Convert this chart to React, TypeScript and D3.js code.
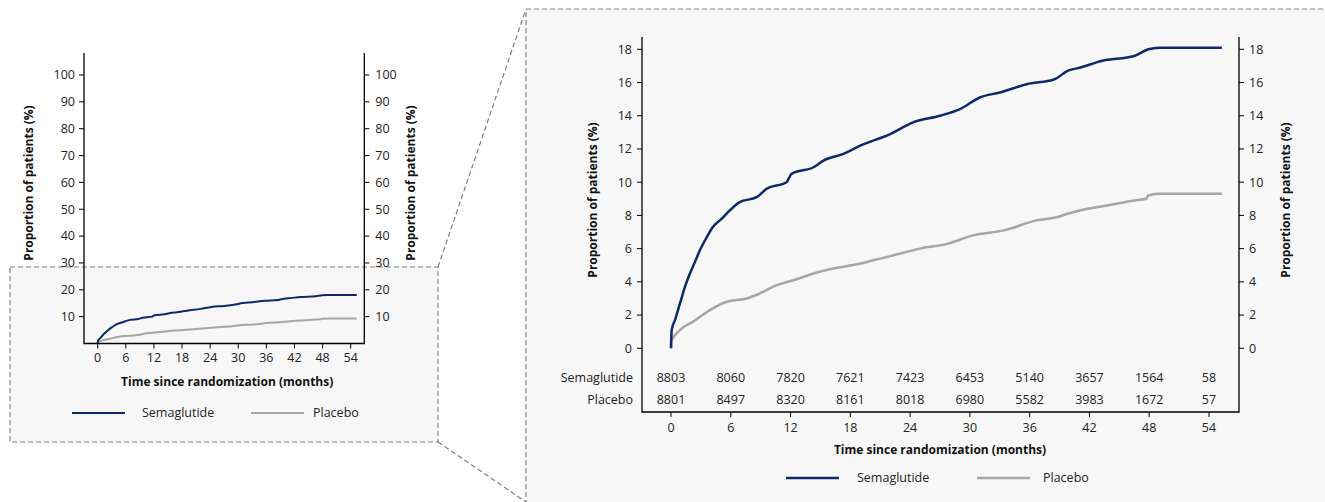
import React from "react";
import * as d3 from "d3";

const months = [0, 6, 12, 18, 24, 30, 36, 42, 48, 54];
const smallYTicks = [10, 20, 30, 40, 50, 60, 70, 80, 90, 100];
const bigYTicks = [0, 2, 4, 6, 8, 10, 12, 14, 16, 18];
const semaAtRisk = [8803, 8060, 7820, 7621, 7423, 6453, 5140, 3657, 1564, 58];
const placeboAtRisk = [8801, 8497, 8320, 8161, 8018, 6980, 5582, 3983, 1672, 57];

const semaTime = [0, 0.07, 0.4, 0.9, 1.4, 1.9, 2.4, 2.9, 3.6, 4.2, 5.1, 5.9, 6.9, 8.6, 9.6, 11.6, 12.1, 14.3, 15.3, 17.3, 19.0, 22.0, 24.3, 27.0, 29.0, 31.0, 33.0, 35.7, 38.5, 39.8, 41.1, 43.2, 46.5, 47.9, 49.0, 55.3];
const semaPct = [0, 1.1, 1.7, 2.7, 3.7, 4.5, 5.2, 5.9, 6.7, 7.3, 7.8, 8.3, 8.8, 9.1, 9.6, 10.0, 10.5, 10.9, 11.3, 11.7, 12.2, 12.9, 13.6, 14.0, 14.4, 15.1, 15.4, 15.9, 16.2, 16.7, 16.9, 17.3, 17.6, 18.0, 18.1, 18.1];
const placeboTime = [0, 0.02, 0.9, 2.2, 3.9, 5.6, 7.6, 8.9, 10.6, 12.3, 14.3, 16.3, 19.0, 20.3, 21.7, 25.0, 27.8, 30.3, 33.4, 36.7, 38.8, 39.8, 41.8, 43.8, 46.5, 47.7, 47.9, 48.9, 55.3];
const placeboPct = [0, 0.4, 1.1, 1.6, 2.3, 2.8, 3.0, 3.3, 3.8, 4.1, 4.5, 4.8, 5.1, 5.3, 5.5, 6.0, 6.3, 6.8, 7.1, 7.7, 7.9, 8.1, 8.4, 8.6, 8.9, 9.0, 9.2, 9.3, 9.3];

const SEMA = "#0c2a6b";
const PLAC = "#a6a6a6";
const BG = "#f7f7f7";
const DASH = "#808080";
const FONT = "'Open Sans', sans-serif";

const semaPts = semaTime.map((t, i) => [t, semaPct[i]] as [number, number]);
const placPts = placeboTime.map((t, i) => [t, placeboPct[i]] as [number, number]);

export default function App() {
  // small chart
  const xL = d3.scaleLinear().domain([0, 54]).range([97.7, 350.7]);
  const yL = d3.scaleLinear().domain([0, 100]).range([343.5, 75]);
  const lineL = d3.line<[number, number]>().x(d => xL(d[0])).y(d => yL(d[1])).curve(d3.curveMonotoneX);
  const L = { left: 84, right: 364.3, top: 53, bottom: 343.5 };

  // big chart
  const xR = d3.scaleLinear().domain([0, 54]).range([671, 1209]);
  const yR = d3.scaleLinear().domain([0, 18]).range([348.3, 49.3]);
  const lineR = d3.line<[number, number]>().x(d => xR(d[0])).y(d => yR(d[1])).curve(d3.curveMonotoneX);
  const R = { left: 642, right: 1239, top: 37, bottom: 412 };

  const fs = 12.5;
  return (
    <svg width={1325} height={502} style={{ position: "absolute", left: 0, top: 0, fontFamily: FONT }}>
      <rect x={0} y={0} width={1325} height={502} fill="#ffffff" />
      {/* zoom boxes */}
      <rect x={10} y={267} width={428} height={175} fill={BG} stroke={DASH} strokeWidth={1.2} strokeDasharray="5,3" />
      <rect x={526} y={9} width={820} height={520} fill={BG} stroke={DASH} strokeWidth={1.2} strokeDasharray="5,3" />
      <line x1={438} y1={267} x2={526} y2={9} stroke={DASH} strokeWidth={1.2} strokeDasharray="5,3" />
      <line x1={438} y1={442} x2={526} y2={502} stroke={DASH} strokeWidth={1.2} strokeDasharray="5,3" />

      {/* ===== small chart ===== */}
      <g>
        <path d={lineL(placPts) || ""} fill="none" stroke={PLAC} strokeWidth={2} />
        <path d={lineL(semaPts) || ""} fill="none" stroke={SEMA} strokeWidth={2} />
        <path d={`M${L.left},${L.top}V${L.bottom}H${L.right}V${L.top}`} fill="none" stroke="#000" strokeWidth={1.3} />
        {smallYTicks.map(v => (
          <g key={"sl" + v}>
            <line x1={L.left - 5} x2={L.left} y1={yL(v)} y2={yL(v)} stroke="#000" strokeWidth={1} />
            <text x={L.left - 9} y={yL(v)} dy="0.35em" textAnchor="end" fontSize={fs} fill="#222">{v}</text>
            <line x1={L.right} x2={L.right + 5} y1={yL(v)} y2={yL(v)} stroke="#000" strokeWidth={1} />
            <text x={L.right + 11} y={yL(v)} dy="0.35em" textAnchor="start" fontSize={fs} fill="#222">{v}</text>
          </g>
        ))}
        {months.map(m => (
          <g key={"sx" + m}>
            <line x1={xL(m)} x2={xL(m)} y1={L.bottom} y2={L.bottom + 5} stroke="#000" strokeWidth={1} />
            <text x={xL(m)} y={358} dy="0.35em" textAnchor="middle" fontSize={fs} fill="#222">{m}</text>
          </g>
        ))}
        <text x={(L.left + L.right) / 2 + 3} y={382} dy="0.35em" textAnchor="middle" fontSize={12} fontWeight="bold" fill="#111">Time since randomization (months)</text>
        <text transform="translate(29,183) rotate(-90)" dy="0.35em" textAnchor="middle" fontSize={12} fontWeight="bold" fill="#111">Proportion of patients (%)</text>
        <text transform="translate(411,183) rotate(-90)" dy="0.35em" textAnchor="middle" fontSize={12} fontWeight="bold" fill="#111">Proportion of patients (%)</text>
        <line x1={72} x2={125} y1={413} y2={413} stroke={SEMA} strokeWidth={2} />
        <text x={142} y={413} dy="0.35em" fontSize={fs} fill="#222">Semaglutide</text>
        <line x1={251} x2={304} y1={413} y2={413} stroke={PLAC} strokeWidth={2} />
        <text x={313} y={413} dy="0.35em" fontSize={fs} fill="#222">Placebo</text>
      </g>

      {/* ===== big chart ===== */}
      <g>
        <path d={lineR(placPts) || ""} fill="none" stroke={PLAC} strokeWidth={2.5} />
        <path d={lineR(semaPts) || ""} fill="none" stroke={SEMA} strokeWidth={2.5} />
        <path d={`M${R.left},${R.top}V${R.bottom}H${R.right}V${R.top}`} fill="none" stroke="#000" strokeWidth={1.3} />
        {bigYTicks.map(v => (
          <g key={"bl" + v}>
            <line x1={R.left - 5} x2={R.left} y1={yR(v)} y2={yR(v)} stroke="#000" strokeWidth={1} />
            <text x={R.left - 10} y={yR(v)} dy="0.35em" textAnchor="end" fontSize={fs} fill="#222">{v}</text>
            <line x1={R.right} x2={R.right + 5} y1={yR(v)} y2={yR(v)} stroke="#000" strokeWidth={1} />
            <text x={R.right + 10} y={yR(v)} dy="0.35em" textAnchor="start" fontSize={fs} fill="#222">{v}</text>
          </g>
        ))}
        {months.map((m, i) => (
          <g key={"bx" + m}>
            <line x1={xR(m)} x2={xR(m)} y1={R.bottom} y2={R.bottom + 5} stroke="#000" strokeWidth={1} />
            <text x={xR(m)} y={428} dy="0.35em" textAnchor="middle" fontSize={fs} fill="#222">{m}</text>
            <text x={xR(m)} y={378} dy="0.35em" textAnchor="middle" fontSize={fs} fill="#222">{semaAtRisk[i]}</text>
            <text x={xR(m)} y={400} dy="0.35em" textAnchor="middle" fontSize={fs} fill="#222">{placeboAtRisk[i]}</text>
          </g>
        ))}
        <text x={633} y={378} dy="0.35em" textAnchor="end" fontSize={fs} fill="#222">Semaglutide</text>
        <text x={633} y={400} dy="0.35em" textAnchor="end" fontSize={fs} fill="#222">Placebo</text>
        <text x={940} y={450} dy="0.35em" textAnchor="middle" fontSize={12} fontWeight="bold" fill="#111">Time since randomization (months)</text>
        <text transform="translate(593,200) rotate(-90)" dy="0.35em" textAnchor="middle" fontSize={12} fontWeight="bold" fill="#111">Proportion of patients (%)</text>
        <text transform="translate(1286,200) rotate(-90)" dy="0.35em" textAnchor="middle" fontSize={12} fontWeight="bold" fill="#111">Proportion of patients (%)</text>
        <line x1={786} x2={839} y1={478} y2={478} stroke={SEMA} strokeWidth={2.5} />
        <text x={857} y={478} dy="0.35em" fontSize={fs} fill="#222">Semaglutide</text>
        <line x1={977} x2={1030} y1={478} y2={478} stroke={PLAC} strokeWidth={2.5} />
        <text x={1043} y={478} dy="0.35em" fontSize={fs} fill="#222">Placebo</text>
      </g>
    </svg>
  );
}
